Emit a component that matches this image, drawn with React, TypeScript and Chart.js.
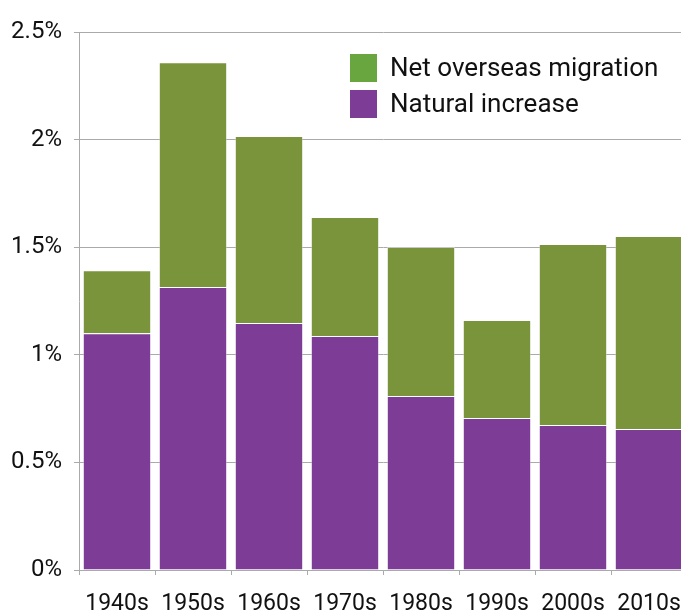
import React, { useEffect, useRef } from "react";
import { Chart, registerables } from "chart.js";

Chart.register(...registerables);

const categories = ["1940s", "1950s", "1960s", "1970s", "1980s", "1990s", "2000s", "2010s"];
const naturalIncrease = [1.10, 1.315, 1.148, 1.087, 0.809, 0.706, 0.674, 0.655];
const netOverseasMigration = [0.293, 1.045, 0.869, 0.553, 0.692, 0.456, 0.841, 0.897];
const yTicks = [0, 0.5, 1, 1.5, 2, 2.5];
const legendItems = [
  { label: "Net overseas migration", color: "#6aa640" },
  { label: "Natural increase", color: "#7d3d96" },
];

const FONT = "Roboto, 'DejaVu Sans', sans-serif";

const legendPlugin = {
  id: "insideLegend",
  afterDraw(chart: any) {
    const ctx = chart.ctx;
    ctx.save();
    legendItems.forEach((item, i) => {
      const top = 54 + i * 36;
      ctx.fillStyle = item.color;
      ctx.fillRect(350, top, 27, 28);
      ctx.fillStyle = "#111";
      ctx.font = `26px ${FONT}`;
      ctx.textBaseline = "middle";
      ctx.textAlign = "left";
      ctx.fillText(item.label, 390, top + 15);
    });
    ctx.restore();
  },
};

export default function App() {
  const ref = useRef<HTMLCanvasElement>(null);
  useEffect(() => {
    document.body.style.overflow = "hidden";
    const chart = new Chart(ref.current!, {
      type: "bar",
      data: {
        labels: categories,
        datasets: [
          {
            label: "Natural increase",
            data: naturalIncrease,
            backgroundColor: "#7d3d96",
            borderColor: "rgba(255,255,255,0.35)",
            borderWidth: 1,
            barPercentage: 0.9,
            categoryPercentage: 1,
          },
          {
            label: "Net overseas migration",
            data: netOverseasMigration,
            backgroundColor: "#7a943c",
            borderColor: "rgba(255,255,255,0.35)",
            borderWidth: 1,
            barPercentage: 0.9,
            categoryPercentage: 1,
          },
        ],
      },
      options: {
        animation: false,
        responsive: true,
        maintainAspectRatio: false,
        layout: { padding: { top: 32, left: 0, right: 0, bottom: 0 } },
        plugins: { legend: { display: false }, tooltip: { enabled: false } },
        scales: {
          x: {
            stacked: true,
            grid: { display: true, drawOnChartArea: false, color: "#aaaaaa", tickLength: 5, offset: true },
            border: { color: "#aaaaaa" },
            ticks: { color: "#111", font: { family: FONT, size: 23 }, padding: 15, maxRotation: 0, autoSkip: false },
            afterFit: (s: any) => {
              s.height = 40;
              s.paddingLeft = 0;
              s.paddingRight = 0;
            },
          },
          y: {
            stacked: true,
            min: 0,
            max: 2.5,
            afterBuildTicks: (s: any) => { s.ticks = yTicks.map((v) => ({ value: v })); },
            grid: { color: "#aaaaaa", tickLength: 5 },
            border: { color: "#aaaaaa" },
            ticks: {
              color: "#111",
              font: { family: FONT, size: 24 },
              padding: 12,
              callback: (v: any) => `${v}%`,
            },
            afterFit: (s: any) => { s.width = 79; },
          },
        },
      },
      plugins: [legendPlugin],
    });
    return () => chart.destroy();
  }, []);
  return (
    <div style={{ position: "fixed", left: 0, top: 0, width: 687, height: 610 }}>
      <canvas ref={ref} />
    </div>
  );
}
